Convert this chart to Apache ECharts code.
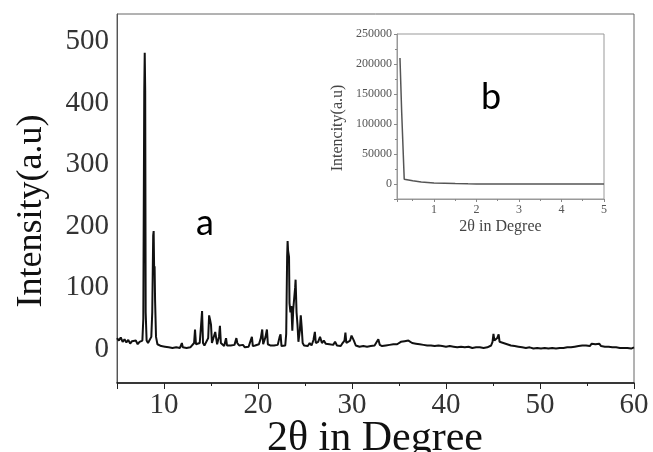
<!DOCTYPE html>
<html>
<head>
<meta charset="utf-8">
<script src="https://cdn.jsdelivr.net/npm/echarts@6/dist/echarts.min.js"></script>
<style>
html,body{margin:0;padding:0;background:#fff;}
#chart{width:653px;height:452px;}
</style>
</head>
<body>
<div id="chart"></div>
<script>
// Main XRD pattern (a): [2theta, intensity]
const xrdPoints = [
[5.0,18],[5.2,14],[5.4,19],[5.6,12],[5.8,16],[6.0,11],[6.2,15],[6.4,9],[6.6,13],[6.8,10],[7.0,14],[7.2,8],[7.4,12],[7.6,9],[7.7,14],
[7.8,50],[7.9,420],[7.95,482],[8.0,420],[8.05,60],[8.15,14],[8.3,10],[8.5,12],[8.65,20],[8.75,60],[8.85,185],[8.9,192],[8.95,130],[9.0,135],[9.05,80],[9.15,20],
[9.3,8],[9.5,7],[9.7,5],[9.9,8],[10.1,4],[10.3,6],[10.5,3],[10.7,6],[10.9,2],[11.1,5],[11.3,3],[11.5,4],[11.7,2],[11.9,10],[12.0,3],[12.2,6],[12.4,2],[12.6,5],[12.8,3],[13.0,6],
[13.2,10],[13.3,32],[13.4,8],[13.6,6],[13.8,10],[13.95,40],[14.05,62],[14.15,10],[14.3,6],[14.5,8],[14.7,18],[14.8,55],[14.9,48],[15.0,40],[15.1,10],[15.3,8],
[15.45,28],[15.55,30],[15.65,8],[15.85,20],[15.95,38],[16.05,10],[16.2,8],[16.4,5],[16.6,18],[16.7,6],[16.9,4],[17.1,6],[17.3,3],[17.5,7],[17.7,18],[17.8,10],
[18.0,6],[18.2,4],[18.4,7],[18.6,3],[18.8,5],[19.0,4],[19.2,7],[19.35,20],[19.45,5],[19.7,6],[19.9,4],[20.1,8],[20.3,18],[20.45,32],[20.55,8],[20.8,20],[20.95,32],[21.05,8],
[21.3,6],[21.5,4],[21.7,6],[21.9,3],[22.1,7],[22.3,20],[22.4,24],[22.5,5],[22.7,4],[22.9,6],[23.0,25],[23.1,150],[23.15,176],[23.2,160],[23.3,150],[23.35,75],[23.45,60],
[23.55,70],[23.65,30],[23.75,65],[23.85,68],[23.95,100],[24.0,113],[24.1,60],[24.2,40],[24.3,12],[24.45,30],[24.55,55],[24.65,35],[24.75,10],[24.9,6],[25.1,8],[25.3,5],
[25.5,10],[25.7,6],[25.9,15],[26.05,28],[26.15,10],[26.4,12],[26.6,20],[26.8,10],[27.0,14],[27.2,9],[27.4,12],[27.6,8],[27.8,10],[28.0,7],[28.2,12],[28.4,6],[28.6,9],
[28.8,5],[29.0,10],[29.2,14],[29.3,27],[29.4,10],[29.6,8],[29.8,14],[29.95,22],[30.05,24],[30.2,14],[30.4,6],[30.6,8],[30.8,4],[31.0,7],[31.2,5],[31.4,8],[31.6,4],
[31.8,7],[32.0,5],[32.2,8],[32.4,6],[32.6,9],[32.8,16],[32.95,7],[33.2,5],[33.4,8],[33.6,6],[33.8,9],[34.0,7],[34.2,10],[34.4,8],[34.6,11],[34.8,8],[35.0,10],[35.2,12],
[35.4,9],[35.6,13],[35.8,11],[36.0,14],[36.2,16],[36.4,10],[36.6,13],[36.8,9],[37.0,12],[37.2,8],[37.4,11],[37.6,7],[37.8,10],[38.0,6],[38.2,9],[38.4,6],[38.6,8],[38.8,5],
[39.0,8],[39.2,6],[39.4,9],[39.6,5],[39.8,7],[40.0,4],[40.2,7],[40.4,5],[40.6,8],[40.8,4],[41.0,6],[41.2,3],[41.4,6],[41.6,4],[41.8,7],[42.0,3],[42.2,6],[42.4,4],[42.6,5],
[42.8,2],[43.0,5],[43.2,3],[43.4,6],[43.6,3],[43.8,5],[44.0,2],[44.2,4],[44.4,3],[44.6,5],[44.8,6],[44.95,12],[45.05,25],[45.15,14],[45.3,15],[45.45,18],[45.6,24],[45.7,12],
[45.9,14],[46.1,10],[46.3,12],[46.5,8],[46.7,10],[46.9,6],[47.1,9],[47.3,5],[47.5,8],[47.7,4],[47.9,7],[48.1,3],[48.3,6],[48.5,2],[48.7,5],[48.9,3],[49.1,4],[49.3,1],
[49.5,4],[49.7,2],[49.9,3],[50.1,1],[50.3,4],[50.5,2],[50.7,3],[50.9,1],[51.1,4],[51.3,2],[51.5,3],[51.7,1],[51.9,4],[52.1,2],[52.3,4],[52.5,2],[52.7,5],[52.9,3],[53.1,5],
[53.3,3],[53.5,6],[53.7,4],[53.9,7],[54.1,5],[54.3,8],[54.5,6],[54.7,9],[54.9,6],[55.1,8],[55.3,5],[55.5,9],[55.7,6],[55.9,8],[56.1,5],[56.3,9],[56.5,5],[56.7,8],[56.9,4],
[57.1,7],[57.3,4],[57.5,7],[57.7,3],[57.9,6],[58.1,3],[58.3,6],[58.5,2],[58.7,5],[58.9,2],[59.1,5],[59.3,2],[59.5,4],[59.7,1],[60.0,3]
];
// Inset (b): low-angle scan
const insetAngle = [0.2, 0.24, 0.3, 0.5, 0.7, 1.0, 1.5, 1.8, 2.0, 3.0, 4.0, 5.0];
const insetIntensity = [210000, 120000, 8000, 5500, 3500, 1800, 800, 300, 0, 0, 0, 0];

const serif = '"Liberation Serif","Times New Roman",serif';
const chart = echarts.init(document.getElementById('chart'), null, {renderer: 'canvas'});
chart.setOption({
  animation: false,
  backgroundColor: '#fff',
  grid: [
    {left: 117, top: 14, right: 19, bottom: 69, show: true, borderColor: '#666', borderWidth: 1, outerBoundsMode: 'none', containLabel: false},
    {left: 397, top: 34, width: 207, height: 165, show: true, borderColor: '#999', borderWidth: 1, backgroundColor: '#fff', z: 5, outerBoundsMode: 'none', containLabel: false}
  ],
  xAxis: [
    {
      type: 'value', gridIndex: 0, min: 5, max: 60, splitNumber: 5,
      axisLine: {show: true, onZero: false, lineStyle: {color: '#111', width: 1.5}},
      axisTick: {show: true, length: 6, lineStyle: {color: '#222'}},
      minorTick: {show: true, splitNumber: 2, length: 3, lineStyle: {color: '#222'}},
      axisLabel: {fontFamily: serif, fontSize: 29, color: '#333', margin: 8, showMinLabel: false},
      splitLine: {show: false}
    },
    {
      type: 'value', gridIndex: 1, min: 0.13, max: 5, splitNumber: 5,
      name: '2θ in Degree', nameLocation: 'middle', nameGap: 20,
      nameTextStyle: {fontFamily: serif, fontSize: 16, color: '#444'},
      axisLine: {show: true, onZero: false, lineStyle: {color: '#999', width: 1}},
      axisTick: {show: true, length: 3, lineStyle: {color: '#888'}},
      minorTick: {show: true, splitNumber: 2, length: 2, lineStyle: {color: '#888'}},
      axisLabel: {fontFamily: serif, fontSize: 12, color: '#555', margin: 5, showMinLabel: false},
      splitLine: {show: false}, z: 6
    }
  ],
  yAxis: [
    {
      type: 'value', gridIndex: 0, min: -55, max: 545,
      axisLine: {show: true, onZero: false, lineStyle: {color: '#555', width: 1}},
      axisTick: {show: false},
      axisLabel: {fontFamily: serif, fontSize: 29, color: '#333', margin: 8, showMinLabel: false, showMaxLabel: false},
      splitLine: {show: false}
    },
    {
      type: 'value', gridIndex: 1, min: -25000, max: 250000,
      axisLine: {show: true, onZero: false, lineStyle: {color: '#999', width: 1}},
      axisTick: {show: true, length: 3, lineStyle: {color: '#888'}},
      minorTick: {show: true, splitNumber: 2, length: 2, lineStyle: {color: '#888'}},
      axisLabel: {fontFamily: serif, fontSize: 12, color: '#555', margin: 5, showMinLabel: false, formatter: v => String(v)},
      splitLine: {show: false}, z: 6
    }
  ],
  series: [
    {
      type: 'line', xAxisIndex: 0, yAxisIndex: 0, data: xrdPoints,
      showSymbol: false, lineStyle: {color: '#111', width: 2}, z: 2
    },
    {
      type: 'line', xAxisIndex: 1, yAxisIndex: 1,
      data: insetAngle.map((a, i) => [a, insetIntensity[i]]),
      showSymbol: false, lineStyle: {color: '#555', width: 1.5}, z: 7
    }
  ],
  graphic: [
    {type: 'text', x: 375, y: 439, z: 10,
     style: {text: '2θ in Degree', font: '42px ' + serif, fill: '#111', align: 'center', verticalAlign: 'middle'}},
    {type: 'text', x: 32, y: 211, rotation: Math.PI / 2, z: 10,
     style: {text: 'Intensity(a.u)', font: '36px ' + serif, fill: '#111', align: 'center', verticalAlign: 'middle'}},
    {type: 'text', x: 338, y: 128, rotation: Math.PI / 2, z: 10,
     style: {text: 'Intencity(a.u)', font: '16px ' + serif, fill: '#444', align: 'center', verticalAlign: 'middle'}},
    {type: 'text', left: 196, top: 205, z: 10, style: {text: 'a', font: '36px Lato, "Open Sans", sans-serif', fill: '#000'}},
    {type: 'text', left: 481, top: 79, z: 10, style: {text: 'b', font: '36px Lato, "Open Sans", sans-serif', fill: '#000'}}
  ]
});
</script>
</body>
</html>
